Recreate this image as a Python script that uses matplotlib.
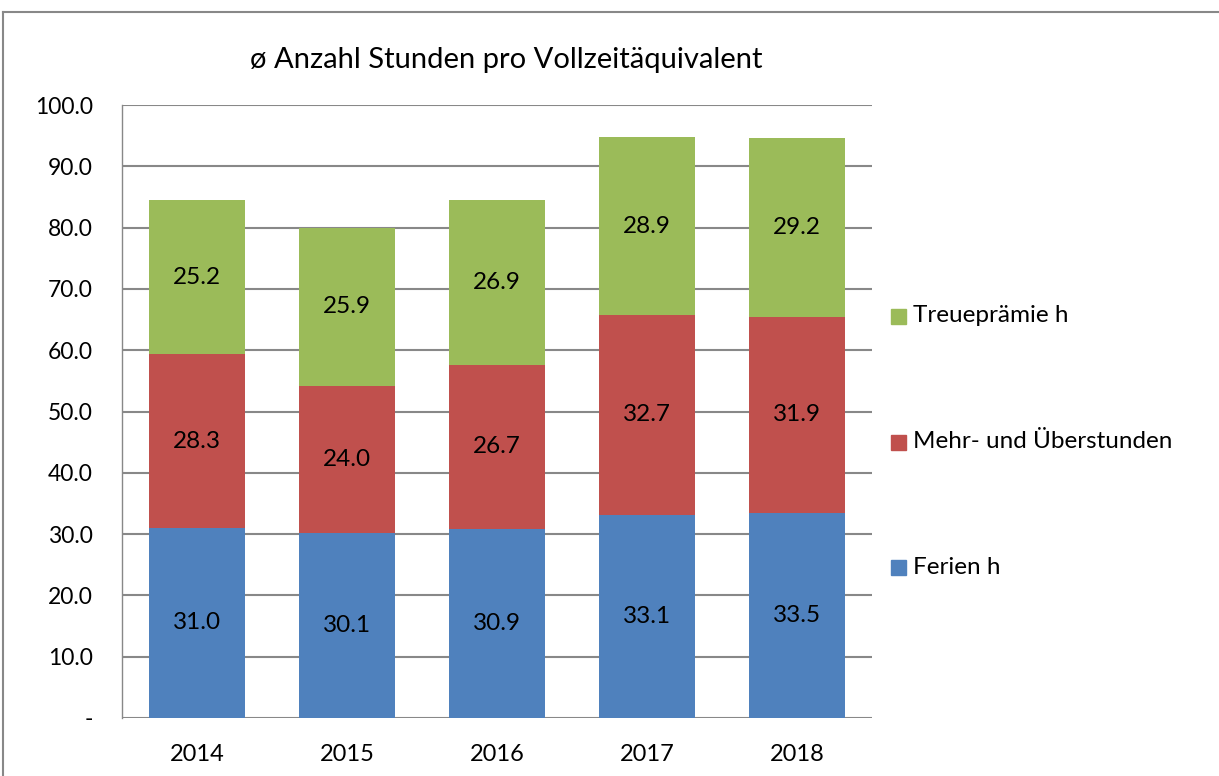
import numpy as np
import matplotlib
matplotlib.use("Agg")
from matplotlib import pyplot as plt
from matplotlib.lines import Line2D

years = ["2014", "2015", "2016", "2017", "2018"]
ferien = [31.0, 30.1, 30.9, 33.1, 33.5]
mehr = [28.3, 24.0, 26.7, 32.7, 31.9]
treue = [25.2, 25.9, 26.9, 28.9, 29.2]
series_names = ["Ferien h", "Mehr- und Überstunden", "Treueprämie h"]
colors = ["#4F81BD", "#C0504D", "#9BBB59"]
yticks = [0, 10, 20, 30, 40, 50, 60, 70, 80, 90, 100]

plt.rcParams['font.family'] = ['Lato', 'DejaVu Sans']

fig = plt.figure(figsize=(12.19, 7.76), dpi=100)
W, H = 1219, 776
ax = fig.add_axes([122 / W, 1 - 718 / H, 750 / W, (718 - 105) / H])

x = np.arange(len(years))
bottom = np.zeros(len(years))
bars = []
for vals, name, c in zip([ferien, mehr, treue], series_names, colors):
    b = ax.bar(x, vals, width=0.64, bottom=bottom, color=c, label=name, zorder=3)
    for xi, v, bt in zip(x, vals, bottom):
        ax.text(xi, bt + v / 2, f"{v:.1f}", ha="center", va="center", fontsize=17.5, zorder=4)
    bottom = bottom + np.array(vals)
    bars.append(b)

ax.set_xlim(-0.5, len(years) - 0.5)
ax.set_ylim(0, 100)
ax.set_yticks(yticks)
ax.set_yticklabels(["-" if t == 0 else f"{t:.1f}" for t in yticks], fontsize=16.5)
ax.set_xticks(x)
ax.set_xticklabels(years, fontsize=17)
ax.tick_params(axis="y", length=0, pad=21)
ax.tick_params(axis="x", length=0, pad=19)
ax.grid(axis="y", color="#888888", linewidth=1.5, zorder=0)
for s in ["top", "right", "bottom"]:
    ax.spines[s].set_visible(False)
ax.spines["left"].set_color("#888888")
ax.spines["left"].set_linewidth(1.0)

fig.text(506 / W, 1 - 60 / H, "ø Anzahl Stunden pro Vollzeitäquivalent", ha="center", va="center", fontsize=21)

# legend, reversed order and spread out like the reference
leg_y = [316, 442, 567]
for b, lab, yy in zip(bars[::-1], series_names[::-1], leg_y):
    fig.patches.append(plt.Rectangle((891 / W, 1 - (yy + 8) / H), 15 / W, 15 / H,
                                     transform=fig.transFigure, color=b.patches[0].get_facecolor(), figure=fig))
    fig.text(913 / W, 1 - yy / H, lab, ha="left", va="center", fontsize=17.5)

# chart border (only top and left inside the picture)
fig.add_artist(Line2D([3 / W, 1], [1 - 12 / H, 1 - 12 / H], color="#888888", linewidth=1.5))
fig.add_artist(Line2D([3 / W, 3 / W], [0, 1 - 12 / H], color="#888888", linewidth=1.5))

fig.savefig("out.png", dpi=100)
